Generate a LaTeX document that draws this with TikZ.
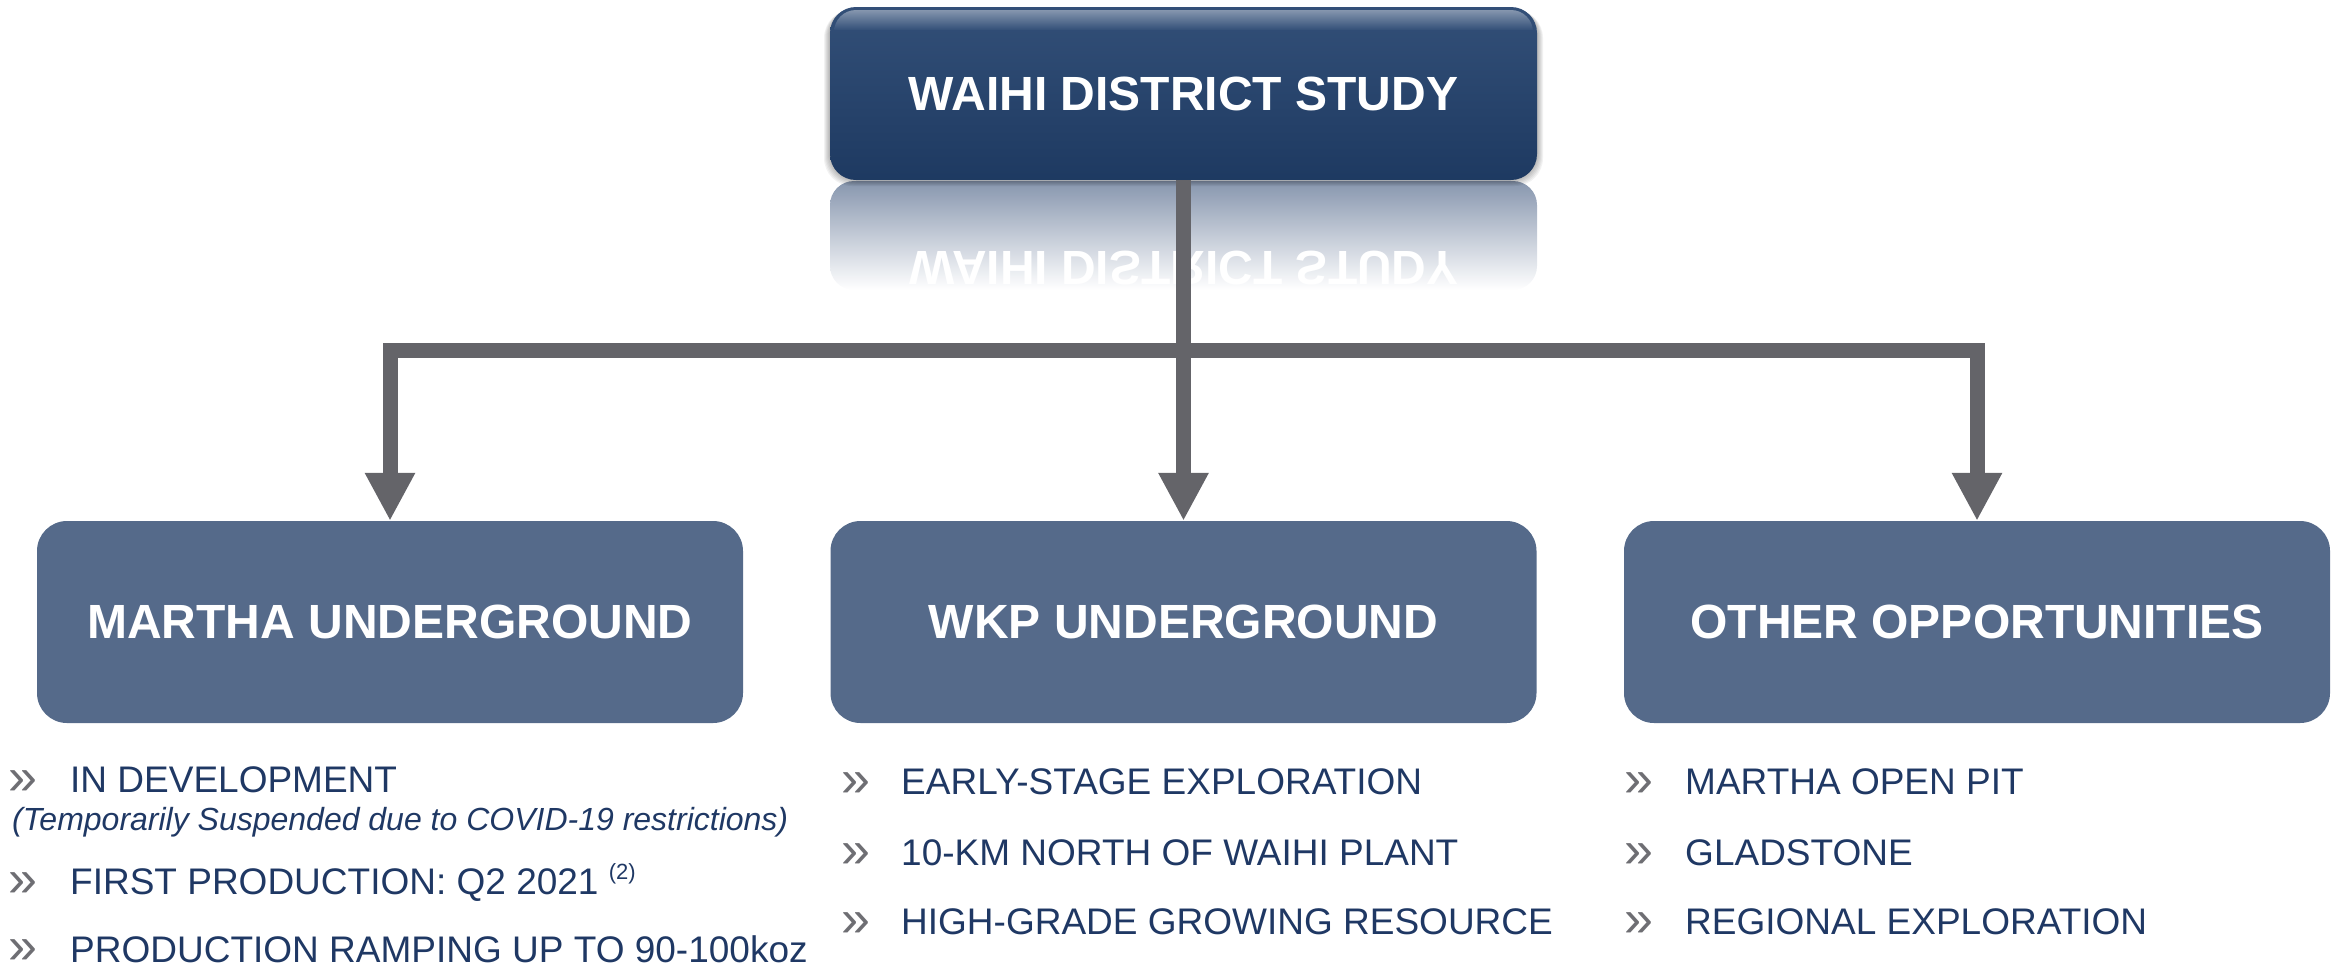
\documentclass[tikz,border=0pt]{standalone}
\usepackage{fontspec}
\setmainfont{Liberation Sans}
\usetikzlibrary{arrows.meta}
\definecolor{navy}{HTML}{1F3864}
\definecolor{topnavy}{HTML}{21406C}
\definecolor{slate}{HTML}{556A8A}
\definecolor{connector}{HTML}{646469}
\definecolor{chevron}{HTML}{6E6E73}
\definecolor{refl}{HTML}{8796AE}

\begin{document}
\begin{tikzpicture}[x=1pt,y=-1pt,
  headfont/.style={font=\fontsize{48}{56}\selectfont\bfseries},
  topbox/.style={headfont, text=white, minimum width=707pt, minimum height=173pt,
    rounded corners=26pt, inner sep=0pt, top color=topnavy!92!white, bottom color=topnavy!90!black},
  subbox/.style={headfont, text=white, fill=slate, minimum width=706pt, minimum height=202pt,
    rounded corners=30pt, inner sep=0pt},
  conn/.style={draw=connector, line width=15pt, line join=miter,
    -{Triangle[width=47pt,length=48pt]}},
  item/.style={anchor=base west, inner sep=0pt, text depth=0pt, text=navy, font=\fontsize{37}{42}\selectfont},
  chev/.style={anchor=base west, inner sep=0pt, text depth=0pt, text=chevron, font=\fontsize{52}{56}\selectfont},
  note/.style={anchor=base west, inner sep=0pt, text=navy, font=\fontsize{32}{38}\selectfont\itshape}
]
\useasboundingbox (0,0) rectangle (2336,967);

% mirrored echo of the title box
\shade[top color=refl, bottom color=white, rounded corners=24pt] (830,181) rectangle (1537,290);
\begin{scope}[shift={(1184,268)}, yscale=-1]
  \node[headfont, text=white, transform shape, inner sep=0pt] (echo) at (0,0) {WAIHI DISTRICT STUDY};
\end{scope}

% soft shadow of the title box
\foreach \i in {1,...,6}
  \fill[black, opacity=0.05, rounded corners=28pt] (830-\i,7+0.5*\i) rectangle (1537+\i,180+\i);

% title box with a light top bevel
\node[topbox] (top) at (1183.5,93.5) {WAIHI DISTRICT STUDY};
\shade[top color=topnavy!55!white, bottom color=topnavy!92!white]
  (834,30) [rounded corners=22pt] -- (834,10) -- (1533,10) [sharp corners] -- (1533,30) -- cycle;

% branch boxes
\node[subbox] (mug) at (390,622) {MARTHA UNDERGROUND};
\node[subbox] (wkp) at (1183.5,622) {WKP UNDERGROUND};
\node[subbox] (other) at (1977,622) {OTHER OPPORTUNITIES};

% connectors
\coordinate (split) at (1184,350);
\draw[conn] (top.south) -- (wkp.north);
\draw[conn] (split) -| (mug.north);
\draw[conn] (split) -| (other.north);

% Martha Underground notes
\node[chev] (c11) at (8,794) {»};
\node[item] (t11) at (70,792) {IN DEVELOPMENT};
\node[note] (n11) at (12,830) {(Temporarily Suspended due to COVID-19 restrictions)};
\node[chev] (c12) at (8,896) {»};
\node[item] (t12) at (70,894) {FIRST PRODUCTION: Q2 2021 \raisebox{15pt}{\fontsize{22}{24}\selectfont(2)}};
\node[chev] (c13) at (8,963) {»};
\node[item] (t13) at (70,962) {PRODUCTION RAMPING UP TO 90-100koz};

% WKP Underground notes
\node[chev] (c21) at (841,796) {»};
\node[item] (t21) at (901,794) {EARLY-STAGE EXPLORATION};
\node[chev] (c22) at (841,867) {»};
\node[item] (t22) at (901,865) {10-KM NORTH OF WAIHI PLANT};
\node[chev] (c23) at (841,936) {»};
\node[item] (t23) at (901,934) {HIGH-GRADE GROWING RESOURCE};

% other opportunities notes
\node[chev] (c31) at (1624,796) {»};
\node[item] (t31) at (1685,794) {MARTHA OPEN PIT};
\node[chev] (c32) at (1624,867) {»};
\node[item] (t32) at (1685,865) {GLADSTONE};
\node[chev] (c33) at (1624,936) {»};
\node[item] (t33) at (1685,934) {REGIONAL EXPLORATION};
\end{tikzpicture}
\end{document}
